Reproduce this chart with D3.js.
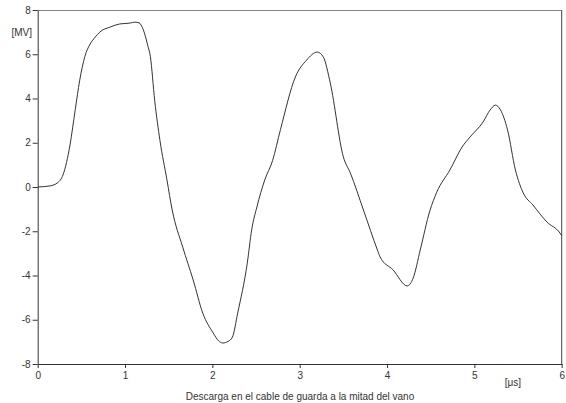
<!DOCTYPE html>
<html>
<head>
<meta charset="utf-8">
<script src="https://cdn.jsdelivr.net/npm/d3@7"></script>
<style>
  body { margin: 0; background: #fff; }
  svg text { font-family: "Liberation Sans", Arial, sans-serif; fill: #333; }
</style>
</head>
<body>
<div id="chart"></div>
<script>
// voltage trace
const tiempo = [0, 0.14, 0.23, 0.29, 0.37, 0.43, 0.48, 0.54, 0.6, 0.66, 0.71, 0.83, 0.94, 1.06, 1.11, 1.16,
  1.21, 1.26, 1.29, 1.34, 1.40, 1.48, 1.54, 1.66, 1.78, 1.89, 2.01, 2.07, 2.12, 2.18, 2.23, 2.29, 2.40,
  2.45, 2.51, 2.60, 2.69, 2.78, 2.95, 3.08, 3.20, 3.27, 3.35, 3.50, 3.58, 3.73, 3.89, 3.92, 4.07, 4.23,
  4.30, 4.38, 4.49, 4.57, 4.72, 4.86, 4.95, 5.10, 5.18, 5.24, 5.30, 5.38, 5.47, 5.56, 5.67, 5.83, 5.98, 6.0];
const tension = [0, 0.05, 0.2, 0.55, 1.9, 3.5, 4.8, 5.9, 6.46, 6.78, 7.0, 7.23, 7.37, 7.41, 7.45, 7.42,
  7.1, 6.4, 5.9, 3.9, 2.1, 0.32, -1.04, -2.71, -4.2, -5.7, -6.6, -6.95, -7.05, -6.98, -6.78, -5.7, -3.43,
  -1.94, -0.9, 0.32, 1.2, 2.6, 4.97, 5.74, 6.1, 5.88, 4.7, 1.36, 0.63, -1.04, -2.85, -3.16, -3.75, -4.47,
  -4.11, -2.85, -1.08, -0.23, 0.77, 1.81, 2.26, 2.94, 3.48, 3.7, 3.48, 2.58, 0.77, -0.27, -0.81, -1.58, -2.08, -2.2];

const xTicks = [0, 1, 2, 3, 4, 5, 6];
const yTicks = [-8, -6, -4, -2, 0, 2, 4, 6, 8];
const titulo = 'Descarga en el cable de guarda a la mitad del vano';

const width = 566, height = 403;
const margin = { top: 10, right: 4.3, bottom: 39, left: 37.7 };
const w = width - margin.left - margin.right;
const h = height - margin.top - margin.bottom;

const svg = d3.select('#chart').append('svg')
  .attr('width', width)
  .attr('height', height);

const g = svg.append('g').attr('transform', `translate(${margin.left},${margin.top})`);

const x = d3.scaleLinear().domain([0, 6]).range([0, w]);
const y = d3.scaleLinear().domain([-8, 8]).range([h, 0]);

// frame
g.append('line').attr('x1', 0).attr('x2', w).attr('y1', 0.5).attr('y2', 0.5)
  .attr('stroke', '#888').attr('stroke-width', 1);
g.append('line').attr('x1', w).attr('x2', w).attr('y1', 0).attr('y2', h)
  .attr('stroke', '#444').attr('stroke-width', 1);

const fmt = d => String(d);

const yAxis = g.append('g')
  .call(d3.axisLeft(y).tickValues(yTicks).tickFormat(fmt).tickSize(5).tickPadding(2).tickSizeOuter(0));
const xAxis = g.append('g').attr('transform', `translate(0,${h})`)
  .call(d3.axisBottom(x).tickValues(xTicks).tickFormat(fmt).tickSize(4).tickPadding(4).tickSizeOuter(0));

[yAxis, xAxis].forEach(a => {
  a.select('.domain').attr('stroke', '#333');
  a.selectAll('.tick line').attr('stroke', '#333');
  a.selectAll('.tick text').attr('font-size', 10).attr('fill', '#333')
    .style('font-family', '"Liberation Sans", Arial, sans-serif');
});

const datos = tiempo.map((t, i) => ({ t, v: tension[i] }));

const linea = d3.line()
  .x(d => x(d.t))
  .y(d => y(d.v))
  .curve(d3.curveMonotoneX);

g.append('path')
  .datum(datos)
  .attr('fill', 'none')
  .attr('stroke', '#333')
  .attr('stroke-width', 1)
  .attr('d', linea);

// labels
svg.append('text').attr('x', 32).attr('y', 36).attr('text-anchor', 'end')
  .attr('font-size', 10).text('[MV]');
svg.append('text').attr('x', 513).attr('y', 386).attr('text-anchor', 'middle')
  .attr('font-size', 10).text('[μs]');
svg.append('text').attr('x', 300).attr('y', 400).attr('text-anchor', 'middle')
  .attr('font-size', 10).text(titulo);
</script>
</body>
</html>
